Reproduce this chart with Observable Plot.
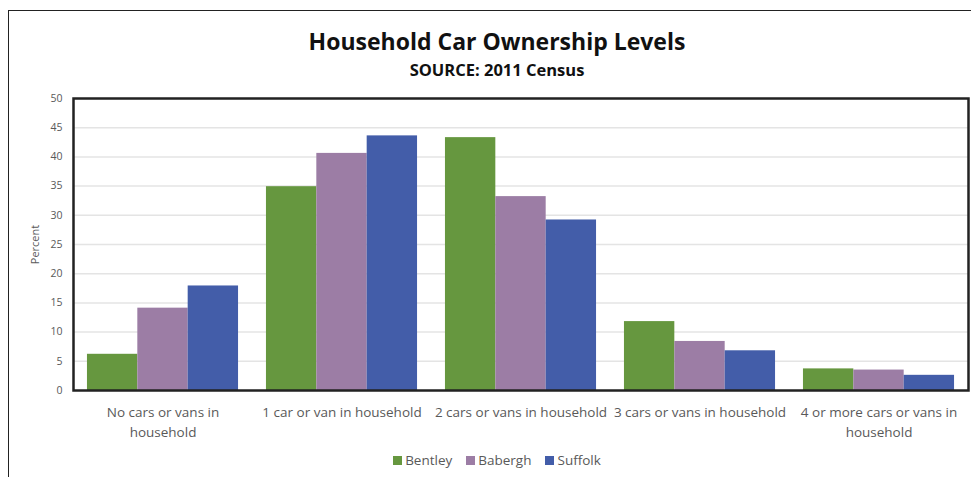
<!DOCTYPE html>
<html>
<head>
<meta charset="utf-8">
<script src="https://cdn.jsdelivr.net/npm/d3@7"></script>
<script src="https://cdn.jsdelivr.net/npm/@observablehq/plot@0.6"></script>
<style>
  html, body { margin: 0; padding: 0; background: #fff; }
  body { width: 971px; height: 477px; overflow: hidden; position: relative; font-family: "Open Sans", sans-serif; }
  #border { position: absolute; left: 8px; top: 10px; width: 1000px; height: 500px; border-top: 1.5px solid #222; border-left: 1.5px solid #222; box-sizing: border-box; pointer-events: none; }
  #head { height: 85px; width: 948px; padding-left: 23px; text-align: center; }
  #title { padding-top: 26px; font-size: 23px; font-weight: 700; color: #111; line-height: 30px; }
  #subtitle { font-size: 16.5px; font-weight: 700; color: #111; line-height: 22px; margin-top: 3px; }
  #chart svg { display: block; }
  #legend { width: 948px; padding-left: 23px; display: flex; justify-content: center; gap: 14px; font-size: 13.5px; color: #595959; margin-top: 6px; }
  #legend .item { display: flex; align-items: center; gap: 3px; }
  #legend .sw { width: 9px; height: 9px; display: inline-block; }
</style>
</head>
<body>
<div id="border"></div>
<div id="head">
  <div id="title">Household Car Ownership Levels</div>
  <div id="subtitle">SOURCE: 2011 Census</div>
</div>
<div id="chart"></div>
<div id="legend"></div>
<script>
const categories = [
  "No cars or vans in\nhousehold",
  "1 car or van in household",
  "2 cars or vans in household",
  "3 cars or vans in household",
  "4 or more cars or vans in\nhousehold"
];
const seriesNames = ["Bentley", "Babergh", "Suffolk"];
const seriesColors = ["#66973F", "#9C7DA5", "#435DA9"];
const bentley = [6.2, 34.9, 43.3, 11.8, 3.7];
const babergh = [14.1, 40.6, 33.2, 8.4, 3.5];
const suffolk = [17.9, 43.6, 29.2, 6.8, 2.6];
const yTicks = [0, 5, 10, 15, 20, 25, 30, 35, 40, 45, 50];
const yLabel = "Percent";

const seriesValues = [bentley, babergh, suffolk];
const outerPad = 0.078;
const barW = (1 - 2 * outerPad) / 3;
const rows = [];
categories.forEach((c, i) => {
  seriesNames.forEach((s, j) => {
    rows.push({category: c, series: s, value: seriesValues[j][i],
      x1: i + outerPad + j * barW, x2: i + outerPad + (j + 1) * barW});
  });
});
const catRows = categories.map((c, i) => ({label: c, pos: i + 0.5}));

const chart = Plot.plot({
  width: 971,
  height: 360,
  marginTop: 13,
  marginBottom: 55,
  marginLeft: 73,
  marginRight: 3,
  style: {fontFamily: "Open Sans, sans-serif", fontSize: "10.5px", color: "#595959", background: "white"},
  x: {domain: [0, categories.length], axis: null},
  y: {domain: [0, 50], ticks: yTicks, tickSize: 0, tickPadding: 11, label: null},
  color: {domain: seriesNames, range: seriesColors},
  marks: [
    Plot.ruleY(yTicks.filter(t => t > 0 && t < 50), {stroke: "#e4e4e4", strokeWidth: 1.5}),
    Plot.rectY(rows, {x1: "x1", x2: "x2", y1: 0, y2: "value", fill: "series"}),
    Plot.text(catRows, {x: "pos", y: 0, text: "label", dy: 13, lineAnchor: "top", lineHeight: 1.45, fontSize: 13.5, fill: "#595959"}),
    Plot.text([yLabel], {frameAnchor: "left", dx: -38, rotate: -90, textAnchor: "middle", text: d => d, fontSize: 11, fill: "#595959"}),
    Plot.frame({stroke: "#222", strokeWidth: 2.5})
  ]
});
document.getElementById("chart").appendChild(chart);

const legend = document.getElementById("legend");
seriesNames.forEach((s, j) => {
  const it = document.createElement("div");
  it.className = "item";
  const sw = document.createElement("span");
  sw.className = "sw";
  sw.style.background = seriesColors[j];
  const tx = document.createElement("span");
  tx.textContent = s;
  it.appendChild(sw); it.appendChild(tx);
  legend.appendChild(it);
});
</script>
</body>
</html>
